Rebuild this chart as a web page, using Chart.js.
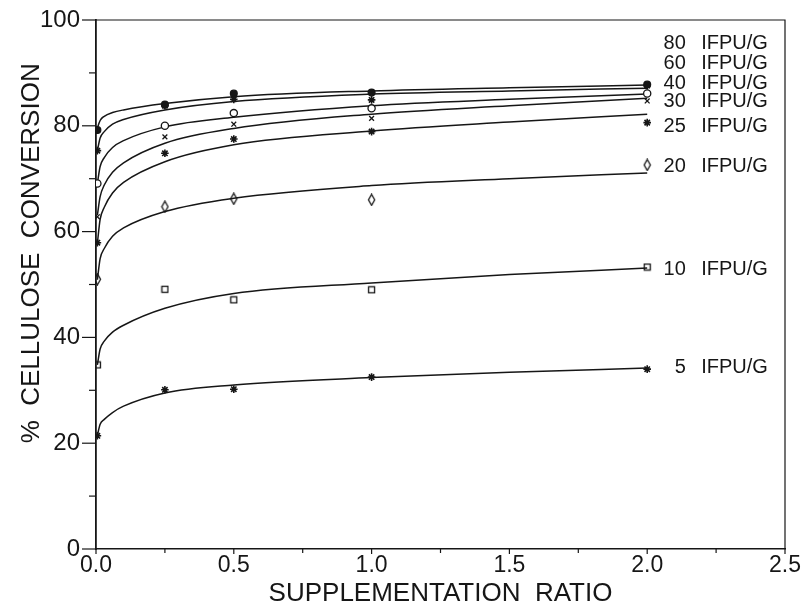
<!DOCTYPE html>
<html><head><meta charset="utf-8">
<script src="https://cdn.jsdelivr.net/npm/chart.js@4.4.1/dist/chart.umd.min.js"></script>
<style>html,body{margin:0;padding:0;background:#fff}#wrap{width:802px;height:607px}</style>
</head><body><div id="wrap"><canvas id="c" width="802" height="607"></canvas></div>
<script>
// ---- data ----
const ratioCurve = [0.005, 0.015, 0.03, 0.06, 0.1, 0.25, 0.5, 1.0, 1.5, 2.0];
const fit80 = [79.6, 81.0, 81.8, 82.5, 83.0, 84.2, 85.5, 86.6, 87.2, 87.7];
const fit60 = [75.3, 77.7, 78.9, 80.3, 81.2, 83.0, 84.6, 86.0, 86.6, 87.1];
const fit40 = [69.1, 72.3, 74.0, 75.9, 77.2, 79.8, 81.6, 83.8, 85.0, 86.0];
const fit30 = [63.1, 66.6, 68.8, 71.2, 73.0, 76.7, 79.5, 82.2, 83.8, 85.2];
const fit25 = [57.8, 62.3, 64.6, 67.3, 69.3, 73.2, 76.4, 79.0, 80.7, 82.2];
const fit20 = [50.9, 54.9, 56.8, 59.1, 60.7, 63.8, 66.3, 68.7, 70.0, 71.1];
const fit10 = [34.8, 37.8, 39.3, 41.0, 42.3, 45.5, 48.3, 50.3, 51.9, 53.1];
const fit5  = [21.5, 23.6, 24.5, 25.8, 27.0, 29.5, 31.0, 32.4, 33.4, 34.2];

const ratioObs = [0.005, 0.25, 0.5, 1.0, 2.0];
const obs80 = [79.2, 84.0, 86.1, 86.3, 87.8];
const obs60 = [75.3, 83.8, 85.0, 84.9, 87.6];
const obs40 = [69.1, 80.0, 82.4, 83.3, 86.1];
const obs30 = [62.8, 77.9, 80.3, 81.4, 84.7];
const obs25 = [57.9, 74.8, 77.5, 78.9, 80.6];
const obs20 = [51.0, 64.7, 66.2, 66.0, 72.6];
const obs10 = [34.8, 49.1, 47.1, 49.0, 53.3];
const obs5  = [21.4, 30.1, 30.2, 32.5, 34.0];

const doseNames = ['80', '60', '40', '30', '25', '20', '10', '5'];
const doseUnit = 'IFPU/G';
const doseLabelY = [95.5, 91.8, 88.0, 84.6, 79.8, 72.3, 52.9, 34.4];

const xTitle = 'SUPPLEMENTATION  RATIO';
const yTitle = '%  CELLULOSE  CONVERSION      ';

// ---- drawing ----
const INK = '#161616';
Chart.defaults.color = INK;
Chart.defaults.font.family = '"Liberation Sans", Arial, sans-serif';

function glyph(w, h, draw) {
  const c = document.createElement('canvas');
  c.width = w; c.height = h;
  const g = c.getContext('2d');
  g.strokeStyle = INK; g.fillStyle = INK; g.lineWidth = 1.3;
  draw(g);
  return c;
}
const tallDiamond = glyph(9, 13, g => { g.beginPath(); g.moveTo(4.5,1); g.lineTo(7.6,6.5); g.lineTo(4.5,12); g.lineTo(1.4,6.5); g.closePath(); g.stroke(); });
const openSquare = glyph(9, 9, g => { g.strokeRect(1.5,1.5,6,6); });

const fits = [fit80, fit60, fit40, fit30, fit25, fit20, fit10, fit5];
const obs = [obs80, obs60, obs40, obs30, obs25, obs20, obs10, obs5];
const markStyles = [
  {pointStyle:'circle', pointRadius:3.4, pointBackgroundColor:INK},
  {pointStyle:'star', pointRadius:3.8, pointBorderWidth:1.6},
  {pointStyle:'circle', pointRadius:3.6, pointBackgroundColor:'#fff', pointBorderWidth:1.3},
  {pointStyle:'crossRot', pointRadius:3.4, pointBorderWidth:1.3},
  {pointStyle:'star', pointRadius:3.8, pointBorderWidth:1.6},
  {pointStyle:tallDiamond},
  {pointStyle:openSquare},
  {pointStyle:'star', pointRadius:3.8, pointBorderWidth:1.6},
];

const datasets = [];
fits.forEach((f, i) => {
  datasets.push({
    label: doseNames[i] + ' ' + doseUnit + ' fit',
    data: ratioCurve.map((x, k) => ({x, y: f[k]})),
    showLine: true, pointRadius: 0, borderColor: INK, borderWidth: 1.5,
    cubicInterpolationMode: 'monotone', fill: false, order: 2
  });
});
obs.forEach((o, i) => {
  datasets.push(Object.assign({
    label: doseNames[i] + ' ' + doseUnit,
    data: ratioObs.map((x, k) => ({x, y: o[k]})),
    showLine: false, borderColor: INK, backgroundColor: INK, pointBorderColor: INK,
    pointBorderWidth: 1.3, order: 1
  }, markStyles[i]));
});

const frame = {
  id: 'frame',
  afterDraw(chart) {
    const {ctx, chartArea: a, scales: {x, y}} = chart;
    ctx.save();
    ctx.strokeStyle = INK; ctx.lineWidth = 1.2;
    ctx.beginPath();
    ctx.moveTo(a.left, a.top); ctx.lineTo(a.right, a.top); ctx.lineTo(a.right, a.bottom);
    ctx.stroke();
    const line = (x1, y1, x2, y2) => { ctx.beginPath(); ctx.moveTo(x1, y1); ctx.lineTo(x2, y2); ctx.stroke(); };
    const xt = x.ticks.map(t => t.value), yt = y.ticks.map(t => t.value);
    xt.forEach((v, i) => {
      const p = x.getPixelForValue(v); line(p, a.bottom, p, a.bottom + 5);
      if (i < xt.length - 1) { const m = x.getPixelForValue((v + xt[i+1]) / 2); line(m, a.bottom, m, a.bottom + 4); }
    });
    yt.forEach((v, i) => {
      const p = y.getPixelForValue(v); line(a.left - 14, p, a.left, p);
      if (i < yt.length - 1) { const m = y.getPixelForValue((v + yt[i+1]) / 2); line(a.left - 7, m, a.left, m); }
    });
    // dose labels
    ctx.fillStyle = INK;
    ctx.font = '20px "Liberation Sans", Arial, sans-serif';
    ctx.textBaseline = 'middle';
    const numRight = x.getPixelForValue(2.14), unitLeft = x.getPixelForValue(2.196);
    doseNames.forEach((n, i) => {
      const py = y.getPixelForValue(doseLabelY[i]);
      ctx.textAlign = 'right'; ctx.fillText(n, numRight, py);
      ctx.textAlign = 'left'; ctx.fillText(doseUnit, unitLeft, py);
    });
    ctx.restore();
  }
};

new Chart(document.getElementById('c'), {
  type: 'scatter',
  data: { datasets },
  options: {
    responsive: false, animation: false, devicePixelRatio: 1,
    layout: { padding: { top: 20, right: 17, left: 0, bottom: 0 } },
    plugins: { legend: { display: false }, tooltip: { enabled: false } },
    scales: {
      x: {
        type: 'linear', min: 0, max: 2.5,
        afterFit: s => { s.height = 58; },
        grid: { display: false, drawTicks: true, tickLength: 3 },
        border: { display: true, color: INK, width: 1.6 },
        ticks: { stepSize: 0.5, padding: 0, font: { size: 23 }, color: INK, maxRotation: 0,
                 callback: v => Number(v).toFixed(1) },
        title: { display: true, text: xTitle, font: { size: 26, lineHeight: 1.0 }, color: INK, padding: { top: 0, bottom: 0.5 } }
      },
      y: {
        type: 'linear', min: 0, max: 100,
        afterFit: s => { s.width = 96; },
        grid: { display: false, drawTicks: true, tickLength: 14 },
        border: { display: true, color: INK, width: 1.8 },
        ticks: { stepSize: 20, padding: 2, font: { size: 24 }, color: INK },
        title: { display: true, text: yTitle, align: 'end', font: { size: 26, lineHeight: 1.2 }, color: INK, padding: { top: 16, bottom: 0 } }
      }
    }
  },
  plugins: [frame]
});
</script>
</body></html>
